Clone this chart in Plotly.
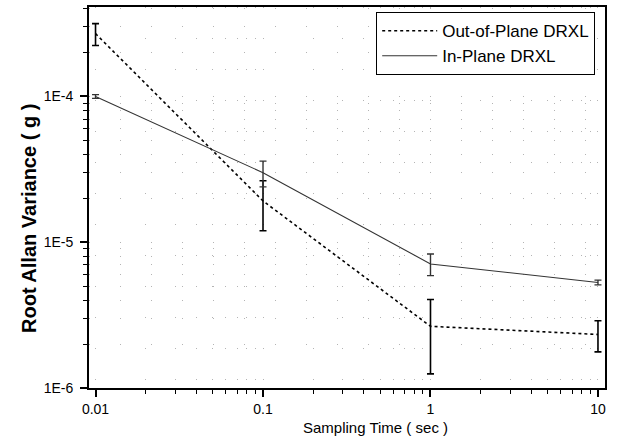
import plotly.graph_objects as go

# Sampling times (s) and root Allan variance (g) for the two accelerometer axes
sampling_time = [0.01, 0.1, 1, 10]

out_of_plane = [2.7e-4, 1.92e-5, 2.65e-6, 2.33e-6]
out_of_plane_err = [4.6e-5, 7.2e-6, 1.4e-6, 5.6e-7]

in_plane = [1.0e-4, 3.0e-5, 7.1e-6, 5.3e-6]
in_plane_err = [3e-6, 6e-6, 1.2e-6, 2e-7]

x_tickvals = [0.01, 0.1, 1, 10]
x_ticktext = ["0.01", "0.1", "1", "10"]
y_tickvals = [1e-6, 1e-5, 1e-4]
y_ticktext = ["1E-6", "1E-5", "1E-4"]

FONT = "Liberation Sans, Arial, sans-serif"


def minor_positions(lo_exp, hi_exp):
    """2..9 x 10^k positions for log-axis minor ticks."""
    vals = []
    for e in range(lo_exp, hi_exp + 1):
        for m in range(2, 10):
            vals.append(m * 10.0 ** e)
    return vals


fig = go.Figure()

fig.add_trace(go.Scatter(
    x=sampling_time, y=out_of_plane, name="Out-of-Plane DRXL",
    mode="lines",
    line=dict(color="black", width=1.6, dash="3px,3px"),
    error_y=dict(type="data", array=out_of_plane_err, visible=True,
                 color="black", thickness=1.6, width=3.5),
))
fig.add_trace(go.Scatter(
    x=sampling_time, y=in_plane, name="In-Plane DRXL",
    mode="lines",
    line=dict(color="#333333", width=1.1),
    error_y=dict(type="data", array=in_plane_err, visible=True,
                 color="#333333", thickness=1.4, width=3.5),
))

grid = dict(showgrid=True, gridcolor="#b4b4b4", griddash="1px,30px", gridwidth=1)

fig.update_xaxes(
    type="log", range=[-2.039, 1.042],
    tickmode="array", tickvals=x_tickvals, ticktext=x_ticktext,
    ticks="outside", ticklen=7, tickwidth=1.5, tickcolor="black",
    showline=True, linecolor="black", linewidth=1.8, mirror=True,
    zeroline=False,
    tickfont=dict(family=FONT, size=14, color="black"),
    minor=dict(tickmode="array", tickvals=minor_positions(-2, 1),
               ticks="outside", ticklen=4, tickwidth=1.2, tickcolor="black",
               **grid),
    **grid,
)
fig.update_yaxes(
    type="log", range=[-6.0, -3.386],
    tickmode="array", tickvals=y_tickvals, ticktext=y_ticktext,
    ticks="outside", ticklen=7, tickwidth=1.5, tickcolor="black",
    showline=True, linecolor="black", linewidth=1.8, mirror=True,
    zeroline=False,
    tickfont=dict(family=FONT, size=14, color="black"),
    ticklabelstandoff=4,
    minor=dict(tickmode="array", tickvals=minor_positions(-6, -4),
               ticks="outside", ticklen=4, tickwidth=1.2, tickcolor="black",
               **grid),
    **grid,
)

fig.add_annotation(
    text="Sampling Time ( sec )", xref="paper", yref="paper",
    x=0.556, y=-0.104, xanchor="center", yanchor="middle", showarrow=False,
    font=dict(family=FONT, size=15, color="black"),
)
fig.add_annotation(
    text="<b>Root Allan Variance ( g )</b>", xref="paper", yref="paper",
    x=-0.116, y=0.444, xanchor="center", yanchor="middle", showarrow=False,
    textangle=-90,
    font=dict(family=FONT, size=20, color="black"),
)

fig.update_layout(
    width=618, height=441,
    margin=dict(l=89, r=13, t=5, b=53),
    paper_bgcolor="white", plot_bgcolor="white",
    showlegend=True,
    legend=dict(
        x=0.9806, y=0.987, xanchor="right", yanchor="top",
        bgcolor="white", bordercolor="black", borderwidth=1.2,
        font=dict(family=FONT, size=17, color="black"),
        itemwidth=55,
        tracegroupgap=0,
    ),
)

fig.write_html("out.html")
